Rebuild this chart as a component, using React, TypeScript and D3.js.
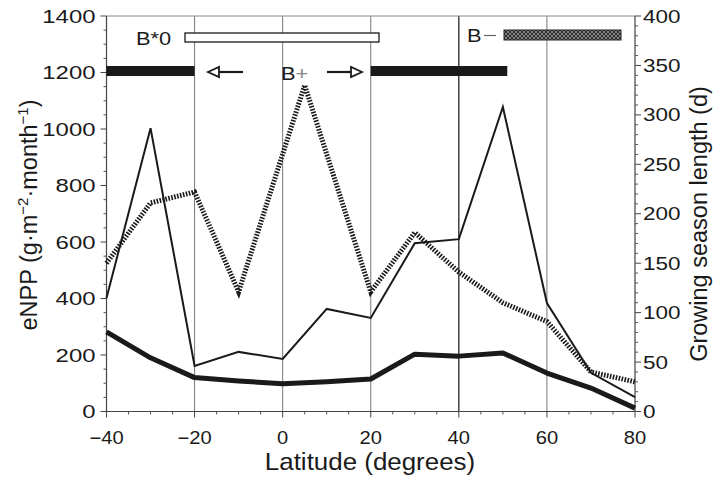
import React from "react";
import * as d3 from "d3";

const latitudes = [-40, -30, -20, -10, 0, 10, 20, 30, 40, 50, 60, 70, 80];
const thinNPP = [402, 1003, 161, 211, 186, 363, 331, 596, 610, 1078, 384, 137, 51];
const thickNPP = [282, 190, 120, 108, 98, 105, 115, 203, 196, 207, 136, 83, 12];
const seasonLat = [-40, -30, -20, -10, 5, 20, 30, 40, 50, 60, 70, 80];
const seasonLen = [150, 211, 222, 121, 330, 121, 181, 141, 110, 91, 40, 30];

const xTicks = [-40, -20, 0, 20, 40, 60, 80];
const leftTicks = [0, 200, 400, 600, 800, 1000, 1200, 1400];
const rightTicks = [0, 50, 100, 150, 200, 250, 300, 350, 400];
const gridLat = [-20, 0, 20, 40, 60];

const W = 715, H = 478;
const L = 106.5, R = 635, T = 16, B = 411.5;
const FONT = "'Liberation Sans', Arial, Helvetica, sans-serif";

function SText(props: { x: number; y: number; sx?: number; size: number; anchor?: string; children: React.ReactNode; fill?: string }) {
  const { x, y, sx = 1, size, anchor = "start", children, fill = "#1a1a1a" } = props;
  return (
    <text transform={`translate(${x},${y}) scale(${sx},1)`} textAnchor={anchor} fontSize={size} fill={fill}>
      {children}
    </text>
  );
}

export default function App() {
  const x = d3.scaleLinear().domain([-40, 80]).range([L, R]);
  const yL = d3.scaleLinear().domain([0, 1400]).range([B, T]);
  const yR = d3.scaleLinear().domain([0, 400]).range([B, T]);

  const lineL = d3.line<number>().x((_, i) => x(latitudes[i])).y((d) => yL(d));
  const lineR = d3.line<number>().x((_, i) => x(seasonLat[i])).y((d) => yR(d));

  const minorX = d3.range(-40, 81, 5).filter((v) => v % 20 !== 0);
  const minorL = d3.range(0, 1401, 50).filter((v) => v % 200 !== 0);
  const minorR = d3.range(0, 401, 10).filter((v) => v % 50 !== 0);

  const ink = "#1a1a1a";

  return (
    <svg width={W} height={H} style={{ position: "absolute", left: 0, top: 0, background: "#fff" }} fontFamily={FONT}>
      <defs>
        <pattern id="hatch" width="4" height="4" patternUnits="userSpaceOnUse">
          <rect width="4" height="4" fill="#2e2e2e" />
          <path d="M0,0 L4,4 M4,0 L0,4" stroke="#9a9a9a" strokeWidth="0.8" />
        </pattern>
      </defs>
      <rect x={0} y={0} width={W} height={H} fill="#fff" />

      {/* grid lines */}
      {gridLat.map((g) => (
        <line key={g} x1={x(g)} x2={x(g)} y1={T} y2={B} stroke={g === 40 ? "#111" : "#777"} strokeWidth={g === 40 ? 1.2 : 1} />
      ))}

      {/* frame */}
      <line x1={L} x2={R} y1={T} y2={T} stroke="#888" strokeWidth={1} />
      <line x1={L} x2={L} y1={T} y2={B} stroke="#444" strokeWidth={1.2} />
      <line x1={R} x2={R} y1={T} y2={B} stroke="#444" strokeWidth={1.2} />
      <line x1={L} x2={R} y1={B} y2={B} stroke="#444" strokeWidth={1.2} />

      {/* bottom ticks */}
      {xTicks.map((t) => (
        <g key={t}>
          <line x1={x(t)} x2={x(t)} y1={B} y2={B + 6} stroke="#444" />
          <SText x={x(t)} y={B + 32} size={18} sx={1.12} anchor="middle">
            {t < 0 ? "\u2212" + Math.abs(t) : String(t)}
          </SText>
        </g>
      ))}
      {minorX.map((t) => (
        <line key={t} x1={x(t)} x2={x(t)} y1={B} y2={B + 3} stroke="#555" />
      ))}

      {/* left ticks */}
      {leftTicks.map((t) => (
        <g key={t}>
          <line x1={L - 6} x2={L} y1={yL(t)} y2={yL(t)} stroke="#444" />
          <SText x={L - 11} y={yL(t) + 6.5} size={18} sx={1.33} anchor="end">{String(t)}</SText>
        </g>
      ))}
      {minorL.map((t) => (
        <line key={t} x1={L - 3} x2={L} y1={yL(t)} y2={yL(t)} stroke="#555" />
      ))}

      {/* right ticks */}
      {rightTicks.map((t) => (
        <g key={t}>
          <line x1={R} x2={R + 6} y1={yR(t)} y2={yR(t)} stroke="#444" />
          <SText x={R + 8} y={yR(t) + 6.5} size={18} sx={1.25} anchor="start">{String(t)}</SText>
        </g>
      ))}
      {minorR.map((t) => (
        <line key={t} x1={R} x2={R + 3} y1={yR(t)} y2={yR(t)} stroke="#555" />
      ))}

      {/* axis titles */}
      <SText x={370} y={470} size={24} sx={1.08} anchor="middle">Latitude (degrees)</SText>
      <text transform={`translate(37,215) rotate(-90)`} textAnchor="middle" fontSize={23.5} fill={ink}>
        eNPP (g·m<tspan dy={-9} fontSize={15}>{"\u22122"}</tspan><tspan dy={9}>·month</tspan>
        <tspan dy={-9} fontSize={15}>{"\u22121"}</tspan><tspan dy={9}>)</tspan>
      </text>
      <text transform={`translate(707,224) rotate(-90)`} textAnchor="middle" fontSize={23.5} fill={ink}>
        Growing season length (d)
      </text>

      {/* top bars */}
      <rect x={x(-40)} y={66} width={x(-20) - x(-40)} height={10} fill={ink} />
      <rect x={x(20)} y={66} width={x(51) - x(20)} height={10} fill={ink} />
      <rect x={185} y={33} width={194} height={9} fill="#fff" stroke={ink} strokeWidth={1.3} />
      <rect x={504} y={30} width={117} height={10} fill="url(#hatch)" stroke="#222" strokeWidth={1} />
      <SText x={136} y={44.5} size={19} sx={1.15}>B*0</SText>
      <SText x={467} y={42} size={19} sx={1.15}>B</SText>
      <line x1={484} x2={496} y1={35.5} y2={35.5} stroke="#666" strokeWidth={1.2} />
      <SText x={281} y={79.5} size={19} sx={1.15}>B<tspan fill="#888">+</tspan></SText>

      {/* arrows */}
      <line x1={218} x2={243} y1={72} y2={72} stroke={ink} strokeWidth={2.2} />
      <path d="M208,72 L219,67 L219,77 Z" fill="#fff" stroke={ink} strokeWidth={1.8} />
      <line x1={327} x2={351} y1={72} y2={72} stroke={ink} strokeWidth={2.2} />
      <path d="M362,72 L351,67 L351,77 Z" fill="#fff" stroke={ink} strokeWidth={1.8} />

      {/* data lines */}
      <path d={lineR(seasonLen) || ""} fill="none" stroke={ink} strokeWidth={5} strokeDasharray="1.6,1.4" />
      <path d={lineL(thinNPP) || ""} fill="none" stroke={ink} strokeWidth={2} strokeLinejoin="miter" />
      <path d={lineL(thickNPP) || ""} fill="none" stroke={ink} strokeWidth={5} strokeLinejoin="round" />
    </svg>
  );
}
